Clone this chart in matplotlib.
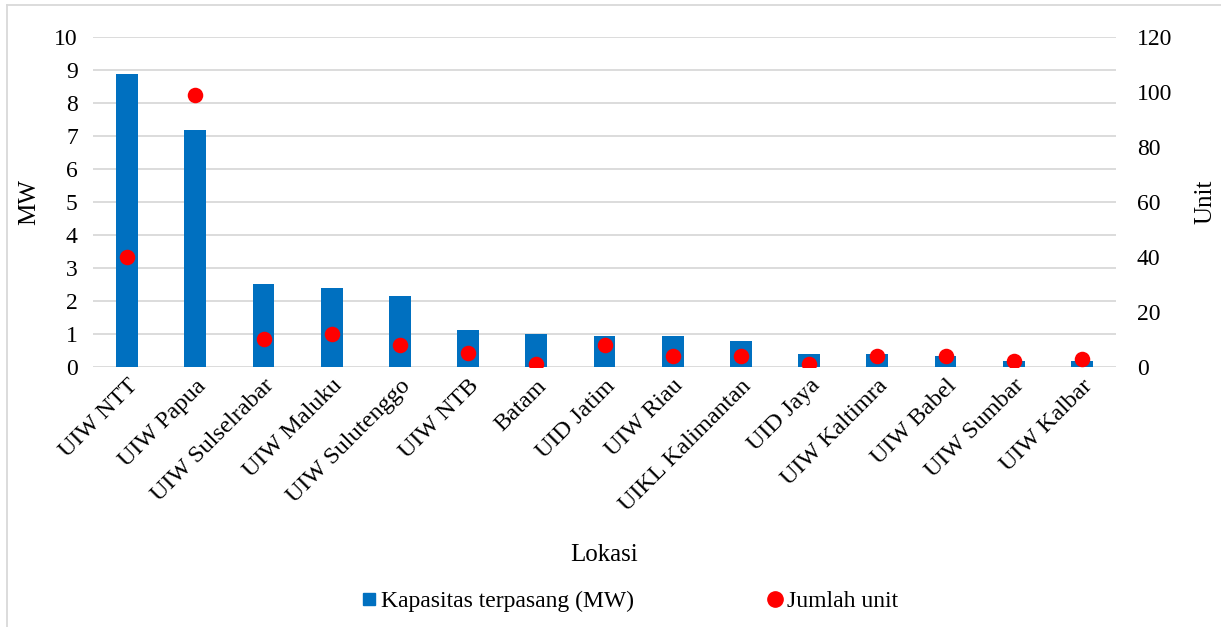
import matplotlib
matplotlib.use("Agg")
import matplotlib.pyplot as plt
from matplotlib.lines import Line2D

plt.rcParams['font.family'] = ['Liberation Serif', 'DejaVu Serif']

lokasi = ["UIW NTT", "UIW Papua", "UIW Sulselrabar", "UIW Maluku", "UIW Sulutenggo",
          "UIW NTB", "Batam", "UID Jatim", "UIW Riau", "UIKL Kalimantan",
          "UID Jaya", "UIW Kaltimra", "UIW Babel", "UIW Sumbar", "UIW Kalbar"]
kapasitas_mw = [8.87, 7.18, 2.5, 2.4, 2.15, 1.12, 1.0, 0.95, 0.94, 0.79,
                0.38, 0.38, 0.33, 0.18, 0.18]
jumlah_unit = [40, 99, 10, 12, 8, 5, 1, 8, 4, 4, 1, 4, 4, 2, 3]

bar_color = "#0070C0"
dot_color = "#FF0000"
grid_color = "#D9D9D9"
fs = 17

fig = plt.figure(figsize=(12.21, 6.27), dpi=100)
ax = fig.add_axes([0.0762, 0.4147, 0.8378, 0.5263])
ax2 = ax.twinx()

x = range(len(lokasi))
ax.bar(x, kapasitas_mw, width=0.32, color=bar_color, zorder=2)
ax2.scatter(x, jumlah_unit, s=125, color=dot_color, zorder=3, linewidths=0)

ax.set_xlim(-0.5, len(lokasi) - 0.5)
ax.set_ylim(0, 10)
ax.set_yticks(range(0, 11))
ax2.set_ylim(0, 120)
ax2.set_yticks(range(0, 121, 20))

ax.set_zorder(1)
ax2.set_zorder(2)
ax.patch.set_visible(False)
ax2.patch.set_visible(False)

ax.grid(axis='y', color=grid_color, linewidth=1.3, zorder=0)
ax.set_axisbelow(True)
for a in (ax, ax2):
    for s in a.spines.values():
        s.set_visible(False)
    a.tick_params(length=0, labelsize=fs, colors="#000000")

ax.tick_params(axis='y', pad=11)
ax2.tick_params(axis='y', pad=15)

ax.set_xticks(list(x))
ax.set_xticklabels(lokasi, rotation=45, ha='right', rotation_mode='anchor', fontsize=fs + 0.5)
ax.tick_params(axis='x', pad=6)

ax.set_ylabel("MW", fontsize=fs + 1, labelpad=10)
ax2.set_ylabel("Unit", fontsize=fs + 1, labelpad=16)
ax.set_xlabel("Lokasi", fontsize=fs + 1, labelpad=21)

handles = [
    Line2D([], [], marker='s', linestyle='none', color=bar_color, markersize=8),
    Line2D([], [], marker='o', linestyle='none', color=dot_color, markersize=11),
]
fig.legend(handles, ["Kapasitas terpasang (MW)", "Jumlah unit"],
           loc='center', bbox_to_anchor=(0.514, 0.041), ncol=2, frameon=False,
           fontsize=fs, handletextpad=0.0, columnspacing=5.5, handlelength=1.0)

# chart-area frame: top and left edges
W, H = 1221, 627
fig.add_artist(Line2D([7 / W, 1.0], [1 - 5 / H, 1 - 5 / H], transform=fig.transFigure,
                      color=grid_color, linewidth=1.3))
fig.add_artist(Line2D([7 / W, 7 / W], [0.0, 1 - 5 / H], transform=fig.transFigure,
                      color=grid_color, linewidth=1.3))

fig.savefig("out.png", dpi=100)
